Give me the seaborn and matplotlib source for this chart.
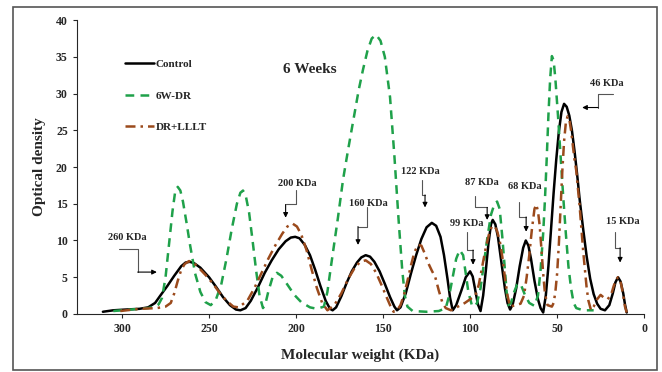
import pandas as pd
import seaborn as sns
import matplotlib.pyplot as plt
from matplotlib.patches import Rectangle

# Control
control_kda = [311, 305, 298, 290, 285, 281, 278, 274, 270, 266, 263.5, 261, 258.5, 255, 250,
               246, 242, 238, 234.5, 232, 229, 226, 222, 218, 214, 210, 206, 203, 200.5, 198,
               195, 192, 189, 186, 183, 180.5, 179, 177, 174, 171, 168, 165, 162.5, 160,
               157.5, 155, 152, 149, 146, 143.5, 142, 140, 137, 134, 131, 128, 125, 122,
               119.5, 117, 115, 113, 111.5, 110, 108, 105, 102.5, 100, 98.5, 97, 95.5, 94,
               92.5, 91, 89.5, 88, 87, 85.5, 84, 82, 80, 78.5, 77, 75.5, 73.5, 71.5, 69.5,
               68, 66.5, 65, 63, 61, 59.5, 58, 56.5, 55, 53.5, 52, 50.5, 49, 47.5, 46, 44.5,
               43, 41.5, 40, 38.5, 37, 35, 33, 31, 29, 27, 25, 22.5, 20, 18, 16.5, 15, 13.5,
               12, 11, 10]
control_od = [0.3, 0.5, 0.6, 0.7, 0.9, 1.5, 2.5, 3.8, 5.2, 6.5, 7.0, 7.1, 6.9, 6.3, 5.0,
              3.7, 2.3, 1.2, 0.6, 0.5, 0.8, 1.8, 3.6, 5.6, 7.3, 8.8, 9.9, 10.4, 10.5, 10.3,
              9.4, 8.0, 6.0, 3.8, 1.8, 0.7, 0.5, 0.9, 2.4, 4.2, 5.8, 7.0, 7.7, 8.0,
              7.8, 7.1, 5.8, 4.1, 2.3, 1.0, 0.5, 0.9, 2.8, 5.5, 8.0, 10.2, 11.8, 12.4,
              12.0, 10.5, 8.0, 4.8, 2.2, 0.5, 1.2, 3.2, 5.0, 5.8, 5.1, 3.2, 1.3, 0.4,
              2.5, 5.8, 9.5, 12.2, 12.8, 12.2, 10.5, 7.0, 3.5, 1.5, 0.6, 1.3, 3.5, 6.5, 9.0,
              10.0, 9.3, 7.5, 4.5, 2.0, 0.8, 0.2, 2.5, 6.5, 11.5, 16.5, 21.0, 24.8, 27.5, 28.6, 28.2,
              27.0, 25.0, 22.2, 19.0, 15.5, 11.5, 7.8, 4.8, 2.7, 1.4, 0.7, 0.5, 1.2, 2.8, 4.3, 5.0, 4.4,
              2.8, 1.3, 0.2]

# 6W-DR
dr_kda = [305, 295, 285, 281, 279, 277, 275, 273, 271, 269.5, 268, 266.5, 265, 263, 261,
          258, 255, 252, 249, 246, 243, 240, 237, 234, 232, 230.5, 229, 227, 225, 223, 221,
          219, 217.5, 216, 213.5, 211, 208.5, 205, 201, 197, 192, 188, 184, 182, 180, 176,
          173, 170, 167, 164, 161.5, 159, 156.5, 154, 151.5, 149, 146, 143.5, 141, 139,
          137.5, 136, 133, 125, 118, 114, 112, 110, 108, 106, 104, 102.5, 101, 99, 97.5,
          96, 94, 92, 90, 88, 86, 84.5, 83, 81.5, 80, 79, 78, 76.5, 75, 73, 72, 70.5,
          68.5, 66, 63, 61, 59.5, 58, 57, 56, 55, 54, 53, 52, 51, 49.5, 48, 46.5, 45,
          43.5, 42, 40.5, 39, 35, 29]
dr_od = [0.4, 0.6, 0.8, 1.0, 1.3, 2.2, 5.0, 9.5, 14.0, 16.6, 17.3, 16.8, 15.3, 12.5, 9.5,
         5.5, 3.0, 1.6, 1.2, 2.0, 4.0, 7.5, 11.5, 15.0, 16.5, 16.8, 16.2, 13.8, 10.0, 6.0,
         2.5, 0.8, 1.5, 3.0, 5.0, 5.6, 5.2, 4.0, 2.6, 1.6, 0.9, 0.7, 1.0, 3.0, 6.4, 13.0,
         18.3, 22.5, 26.5, 30.5, 33.3, 35.8, 37.5, 38.0, 37.2, 35.0, 29.5, 21.5, 12.5, 6.0,
         2.5, 1.0, 0.4, 0.3, 0.4, 0.8, 2.5, 5.0, 7.5, 8.7, 8.0, 5.5, 3.0, 1.2, 1.0,
         1.5, 3.5, 7.0, 10.5, 13.5, 15.0, 15.3, 14.3, 10.5, 6.0, 3.0, 1.2, 1.5, 2.8, 4.0,
         4.2, 3.8, 2.6, 1.5, 1.1, 2.5, 6.0, 11.0, 15.5, 21.0, 27.0, 32.0, 35.1, 34.5, 32.0,
         27.0, 21.5, 16.0, 11.0, 6.5, 3.5, 1.5, 0.8, 0.5, 0.5]

# DR+LLLT
lllt_kda = [301, 290, 280, 275, 272, 270, 268, 266, 264, 261.5, 259, 256, 252, 248, 244,
            240, 236, 233, 228, 224, 220, 216, 212, 208, 205, 202, 199.5, 197, 194, 191,
            188, 185, 182, 178, 174, 170, 166, 163, 160, 157, 154, 151, 148, 146, 144, 142,
            140, 138, 136, 134, 132, 130, 128, 126, 124, 122, 120, 118, 116, 114, 111, 107,
            103, 100, 97, 95, 93, 91, 89, 87.5, 86, 84.5, 83, 81.5, 80, 78.5, 77, 74, 71,
            69, 67.5, 66, 64.5, 63, 62, 61, 60, 59, 58, 57, 55.5, 53, 52, 51, 50, 49, 48,
            47, 46, 45, 44, 43, 42, 41, 40, 39, 37, 35, 33, 32, 30.5, 29, 27, 25, 23, 21,
            19, 17.5, 16, 15, 14, 13, 12, 11, 10]
lllt_od = [0.4, 0.7, 0.8, 1.0, 1.5, 2.8, 4.5, 6.0, 6.8, 7.2, 7.0, 6.3, 5.3, 4.2, 2.9,
           1.8, 1.0, 0.9, 1.8, 3.5, 5.5, 7.5, 9.3, 10.9, 11.9, 12.3, 11.9, 10.8, 8.7, 6.0,
           3.5, 1.5, 0.5, 1.2, 2.8, 4.8, 6.4, 7.1, 7.3, 6.8, 5.6, 4.0, 2.3, 1.2, 0.3, 0.5,
           1.2, 2.6, 4.5, 6.6, 8.4, 9.4, 9.3, 8.2, 6.9, 5.9, 5.0, 3.2, 1.6, 0.8, 0.5, 1.0,
           1.5, 2.0, 2.5, 4.0, 6.5, 9.0, 11.0, 11.9, 12.0, 11.3, 10.0, 7.8, 5.0, 2.5, 1.0, 1.2, 1.4,
           2.5, 5.0, 8.0, 11.5, 14.3, 14.9, 14.0, 12.0, 8.8, 5.5, 2.8, 1.2, 1.0, 1.5, 3.0, 5.5, 9.5, 14.5,
           19.5, 23.5, 26.0, 26.9, 26.5, 25.0, 23.0, 21.0, 19.5, 14.5, 8.5, 3.5, 1.8, 0.5, 1.0, 2.0, 2.6, 2.2, 2.0,
           2.6, 3.8, 4.7, 5.0, 4.8, 3.8, 2.5, 1.0, 0.2]

band_labels = ["260 KDa", "200 KDa", "160 KDa", "122 KDa", "99 KDa",
               "87 KDa", "68 KDa", "46 KDa", "15 KDa"]

df = pd.concat([
    pd.DataFrame({"kda": control_kda, "od": control_od, "sample": "Control"}),
    pd.DataFrame({"kda": dr_kda, "od": dr_od, "sample": "6W-DR"}),
    pd.DataFrame({"kda": lllt_kda, "od": lllt_od, "sample": "DR+LLLT"}),
])

sns.set_style("ticks")
plt.rcParams["font.family"] = ["Liberation Serif", "DejaVu Serif"]
plt.rcParams["font.weight"] = "bold"

fig = plt.figure(figsize=(6.62, 3.72), dpi=100)
ax = fig.add_axes([0.116, 0.156, 0.857, 0.790])

palette = {"Control": "black", "6W-DR": "#1fa14a", "DR+LLLT": "#9b4a1c"}
dashes = {"Control": "", "6W-DR": (3.5, 2.5), "DR+LLLT": (4, 2, 1, 2)}
sns.lineplot(data=df, x="kda", y="od", hue="sample", style="sample",
             palette=palette, dashes=dashes, estimator=None, sort=False,
             linewidth=1.8, ax=ax)

ax.set_xlim(326, 0)
ax.set_ylim(0, 40)
ax.set_xticks(range(0, 301, 50))
ax.set_yticks(range(0, 41, 5))
ax.tick_params(labelsize=8.5, length=3, width=0.8)
sns.despine(ax=ax)
ax.set_xlabel("Molecular weight (KDa)", fontsize=11, fontweight="bold", labelpad=10)
ax.set_ylabel("Optical density", fontsize=11, fontweight="bold", labelpad=7)

ax.legend(frameon=False, loc="upper left", bbox_to_anchor=(0.068, 0.9),
          labelspacing=1.95, handlelength=2.6, handletextpad=0.1,
          prop={"size": 8, "weight": "bold"})

ax.text(192, 33.3, "6 Weeks", ha="center", va="center", fontsize=11, fontweight="bold")

# band callouts: text position, elbow path, arrow tip
callouts = [
    ((297, 10.4), [(302, 8.9), (291, 8.9), (291, 5.7)], (280, 5.7)),
    ((199, 17.7), [(200, 16.9), (200, 14.9), (206, 14.9)], (206, 13.1)),
    ((158.6, 15.1), [(159.2, 14.5), (159.2, 11.9), (164.4, 11.9)], (164.4, 9.4)),
    ((128.7, 19.4), [(127.6, 18.3), (127.6, 16.2), (125.9, 16.2)], (125.9, 14.5)),
    ((101.7, 12.3), [(101.7, 11.1), (101.7, 8.7), (98.3, 8.7)], (98.3, 6.7)),
    ((93.1, 17.9), [(97.1, 16.0), (97.1, 14.5), (90.2, 14.5)], (90.2, 12.8)),
    ((68.4, 17.3), [(71.8, 15.3), (71.8, 13.2), (67.8, 13.2)], (67.8, 11.2)),
    ((21.3, 31.4), [(17.8, 29.9), (26.4, 29.9), (26.4, 28.1)], (35.6, 28.1)),
    ((12.1, 12.6), [(16.7, 11.1), (16.7, 9.0), (13.8, 9.0)], (13.8, 7.0)),
]
for label, (txt, path, tip) in zip(band_labels, callouts):
    ax.text(txt[0], txt[1], label, ha="center", va="center", fontsize=7.5, fontweight="bold")
    xs = [p[0] for p in path]
    ys = [p[1] for p in path]
    ax.plot(xs, ys, color="#555555", lw=0.8)
    ax.annotate("", xy=tip, xytext=path[-1],
                arrowprops=dict(arrowstyle="-|>", color="black", lw=0.8,
                                mutation_scale=7, shrinkA=0, shrinkB=0))

fig.patches.append(Rectangle((0.02, 0.005), 0.973, 0.977, transform=fig.transFigure,
                             fill=False, edgecolor="#555555", lw=1.2))

fig.savefig("out.png", dpi=100)
